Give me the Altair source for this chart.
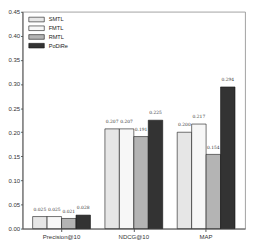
import altair as alt
import pandas as pd

metrics = ["Precision@10", "NDCG@10", "MAP"]
methods = ["SMTL", "FMTL", "RMTL", "PoDiRe"]
smtl = [0.025, 0.207, 0.200]
fmtl = [0.025, 0.207, 0.217]
rmtl = [0.021, 0.191, 0.154]
podire = [0.028, 0.225, 0.294]
y_ticks = [0.0, 0.05, 0.10, 0.15, 0.20, 0.25, 0.30, 0.35, 0.40, 0.45]
fills = ["#e6e6e6", "#f7f7f7", "#b4b4b4", "#333333"]

rows = []
for m, vals in zip(methods, [smtl, fmtl, rmtl, podire]):
    for k, v in zip(metrics, vals):
        rows.append({"metric": k, "method": m, "value": v, "label": f"{v:.3f}"})
df = pd.DataFrame(rows)

x = alt.X("metric:N", sort=metrics, title=None,
          scale=alt.Scale(paddingInner=0.2, paddingOuter=0.14),
          axis=alt.Axis(labelAngle=0, labelFontSize=6.2, labelColor="#333",
                        tickSize=3, tickColor="#555", domainColor="#555",
                        labelFont="Liberation Sans", labelPadding=2))
xo = alt.XOffset("method:N", sort=methods, scale=alt.Scale(paddingInner=0, paddingOuter=0))
y = alt.Y("value:Q", title=None,
          scale=alt.Scale(domain=[0, 0.45], nice=False),
          axis=alt.Axis(values=y_ticks, format=".2f", grid=False, labelFontSize=6.2,
                        labelColor="#333", tickSize=2, tickColor="#555",
                        domainColor="#555", labelFont="Liberation Sans", labelPadding=1))

bars = alt.Chart(df).mark_bar(stroke="#111", strokeWidth=0.6).encode(
    x=x, xOffset=xo, y=y,
    fill=alt.Fill("method:N", sort=methods,
                  scale=alt.Scale(domain=methods, range=fills),
                  legend=alt.Legend(title=None, orient="none", legendX=10, legendY=3.5,
                                    symbolType="M-2,-0.6H2V0.6H-2Z", symbolSize=64,
                                    symbolStrokeColor="#111", symbolStrokeWidth=0.6,
                                    labelFontSize=5.8, labelColor="#222",
                                    labelFont="Liberation Sans", rowPadding=0,
                                    labelOffset=8, padding=0)),
)

texts = alt.Chart(df).mark_text(fontSize=4.6, font="DejaVu Serif", color="#333",
                                baseline="bottom", dy=-5).encode(
    x=x, xOffset=xo, y=y, text="label:N")

chart = alt.layer(bars, texts).properties(
    width=230, height=224,
    autosize=alt.AutoSizeParams(type="none"),
    padding={"left": 15, "top": 0, "right": 4, "bottom": 12},
).configure_view(stroke="#888", strokeWidth=0.8)

chart.save("out.html", embed_options={"renderer": "svg", "actions": False})
